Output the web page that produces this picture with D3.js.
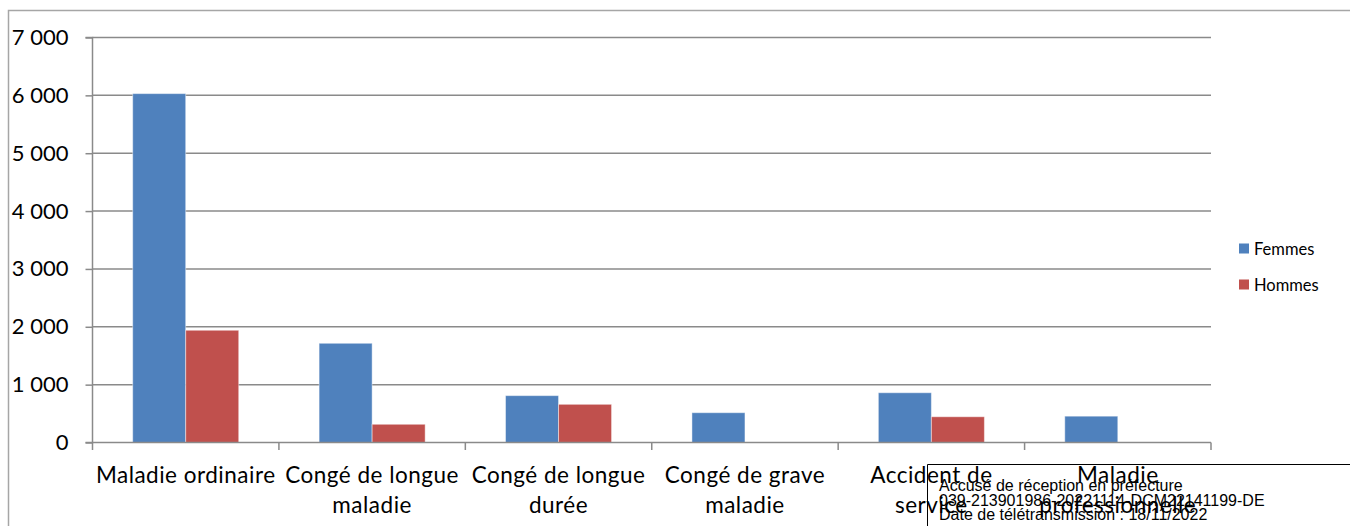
<!DOCTYPE html>
<html>
<head>
<meta charset="utf-8">
<script src="https://cdn.jsdelivr.net/npm/d3@7"></script>
<style>
  html, body { margin: 0; padding: 0; background: #fff; }
  svg { display: block; }
</style>
</head>
<body>
<svg id="chart" width="1350" height="526"></svg>
<script>
const categories = ["Maladie ordinaire", "Congé de longue maladie", "Congé de longue durée", "Congé de grave maladie", "Accident de service", "Maladie professionnelle"];
const seriesNames = ["Femmes", "Hommes"];
const femmes = [6030, 1715, 810, 515, 860, 455];
const hommes = [1940, 315, 660, 0, 445, 0];
const yTicks = [0, 1000, 2000, 3000, 4000, 5000, 6000, 7000];
const colors = ["#4f81bd", "#c0504d"];
const stampLines = ["Accusé de réception en préfecture", "039-213901986-20221114-DCM22141199-DE", "Date de télétransmission : 18/11/2022"];

const svg = d3.select("#chart");
const chartFont = "Lato, 'Open Sans', sans-serif";

const plot = { left: 92.5, right: 1211, top: 37.5, bottom: 442.5 };

// outer chart border
svg.append("path")
  .attr("d", "M8.5,526 V10.5 H1350")
  .attr("fill", "none").attr("stroke", "#a6a6a6").attr("stroke-width", 1.5);

const x = d3.scaleBand().domain(categories).range([plot.left, plot.right]).paddingInner(0).paddingOuter(0);
const xs = d3.scaleBand().domain(seriesNames).range([0, x.bandwidth()]).paddingInner(0).paddingOuter(0.758);
const y = d3.scaleLinear().domain([0, 7000]).range([plot.bottom, plot.top]);

const fmt = d3.formatLocale({ decimal: ",", thousands: " ", grouping: [3], currency: ["", " €"] }).format(",d");

// gridlines
svg.append("g").selectAll("line").data(yTicks.filter(d => d > 0)).join("line")
  .attr("x1", plot.left).attr("x2", plot.right)
  .attr("y1", d => y(d)).attr("y2", d => y(d))
  .attr("stroke", "#8a8a8a").attr("stroke-width", 1.5);

// bars
const data = categories.map((c, i) => ({ cat: c, vals: [femmes[i], hommes[i]] }));
const groups = svg.append("g").selectAll("g").data(data).join("g")
  .attr("transform", d => `translate(${x(d.cat)},0)`);
groups.selectAll("rect").data(d => d.vals.map((v, j) => ({ s: seriesNames[j], v, j }))).join("rect")
  .filter(d => d.v > 0)
  .attr("x", d => xs(d.s)).attr("width", xs.bandwidth())
  .attr("y", d => y(d.v)).attr("height", d => y(0) - y(d.v))
  .attr("fill", d => colors[d.j])
  .attr("stroke", "rgba(255,255,255,0.45)").attr("stroke-width", 1);

// y axis
const yAxis = d3.axisLeft(y).tickValues(yTicks).tickFormat(fmt).tickSize(7).tickPadding(17);
const gy = svg.append("g").attr("transform", `translate(${plot.left},0)`).call(yAxis);
gy.select(".domain").attr("stroke", "#8a8a8a").attr("stroke-width", 1.5).attr("d", `M-7,${plot.top}H0V${plot.bottom}H-7`);
gy.selectAll(".tick line").attr("stroke", "#8a8a8a").attr("stroke-width", 1.5);
gy.selectAll(".tick text").attr("font-family", chartFont).attr("font-size", 22).attr("fill", "#000");

// x axis line with ticks at category boundaries
const boundaries = categories.map(c => x(c)).concat([plot.right]);
svg.append("line").attr("x1", plot.left).attr("x2", plot.right).attr("y1", plot.bottom).attr("y2", plot.bottom)
  .attr("stroke", "#8a8a8a").attr("stroke-width", 1.5);
svg.append("g").selectAll("line").data(boundaries).join("line")
  .attr("x1", d => d).attr("x2", d => d).attr("y1", plot.bottom).attr("y2", plot.bottom + 7.5)
  .attr("stroke", "#8a8a8a").attr("stroke-width", 1.5);

// category labels with wrapping
const labG = svg.append("g");
categories.forEach(c => {
  const t = labG.append("text").attr("font-family", chartFont).attr("font-size", 22.5)
    .attr("letter-spacing", 0.5).attr("fill", "#000")
    .attr("text-anchor", "middle");
  const words = c.split(" ");
  let lines = [], cur = [];
  const probe = t.append("tspan");
  words.forEach(w => {
    cur.push(w);
    probe.text(cur.join(" "));
    if (probe.node().getComputedTextLength() > x.bandwidth() - 2 && cur.length > 1) {
      cur.pop(); lines.push(cur.join(" ")); cur = [w];
    }
  });
  lines.push(cur.join(" "));
  probe.remove();
  lines.forEach((l, i) => {
    t.append("tspan").attr("x", x(c) + x.bandwidth() / 2).attr("y", 483 + i * 30).text(l);
  });
});

// legend
const leg = svg.append("g");
seriesNames.forEach((s, i) => {
  leg.append("rect").attr("x", 1239).attr("y", 243.5 + i * 36).attr("width", 10).attr("height", 10).attr("fill", colors[i]);
  leg.append("text").attr("x", 1254).attr("y", 254.5 + i * 36).attr("font-family", chartFont).attr("font-size", 16.5).attr("fill", "#000").text(s);
});

// stamp overlay
svg.append("path").attr("d", "M927.5,526 V464.5 H1350").attr("fill", "none").attr("stroke", "#000").attr("stroke-width", 1);
svg.append("g").selectAll("text").data(stampLines).join("text")
  .attr("x", 939).attr("y", (d, i) => 491 + i * 14.7)
  .attr("font-family", "'Liberation Sans', Arial, sans-serif").attr("font-size", 16).attr("fill", "#000")
  .text(d => d);
</script>
</body>
</html>
